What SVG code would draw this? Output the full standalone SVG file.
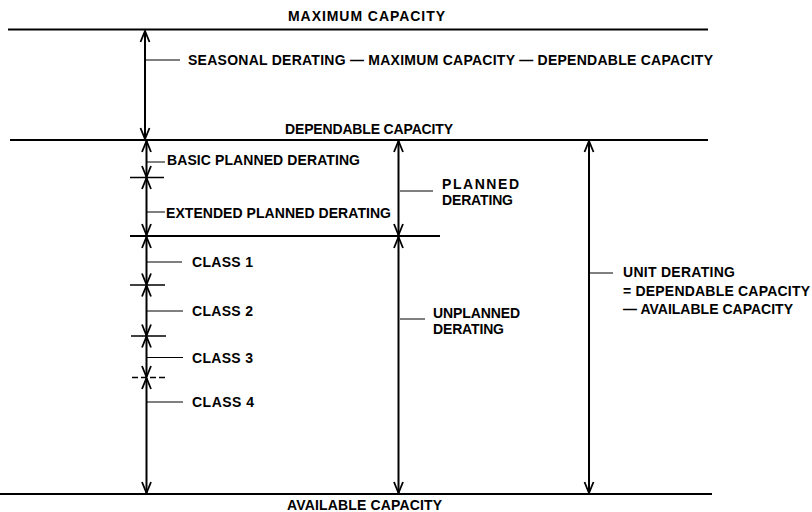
<svg xmlns="http://www.w3.org/2000/svg" width="812" height="512" viewBox="0 0 812 512">
<defs>
<marker id="ah" markerUnits="userSpaceOnUse" markerWidth="14" markerHeight="12" viewBox="-12 -6 14 12" refX="0" refY="0" orient="auto-start-reverse">
<path d="M-11,-4.5 L0,0 L-11,4.5" fill="none" stroke="#000" stroke-width="1.8" stroke-linejoin="miter"/>
</marker>
<style>
text{font-family:"Liberation Sans",Arial,sans-serif;font-weight:bold;font-size:14px;fill:#000}
.lvl{stroke:#000;stroke-width:1.8;fill:none}
.arr{stroke:#000;stroke-width:2;fill:none;marker-start:url(#ah);marker-end:url(#ah)}
.tick{stroke:#000;stroke-width:1;fill:none}
.cross{stroke:#000;stroke-width:1.6;fill:none}
</style>
</defs>
<rect width="812" height="512" fill="#fff"/>

<g id="max-capacity">
<line class="lvl" x1="8" y1="29.5" x2="708" y2="29.5"/>
<text x="288" y="20.5" textLength="157">MAXIMUM CAPACITY</text>
</g>
<g id="dependable-capacity">
<line class="lvl" x1="10" y1="140" x2="708" y2="140"/>
<text x="285" y="134" textLength="168">DEPENDABLE CAPACITY</text>
</g>
<g id="planned-boundary">
<line class="lvl" x1="130" y1="236" x2="440" y2="236"/>
</g>
<g id="available-capacity">
<line class="lvl" x1="0" y1="494" x2="712" y2="494"/>
<text x="287" y="510" textLength="155">AVAILABLE CAPACITY</text>
</g>

<g id="seasonal-derating">
<line class="tick" x1="146" y1="60" x2="180" y2="60"/>
<text x="188" y="65" textLength="525">SEASONAL DERATING — MAXIMUM CAPACITY — DEPENDABLE CAPACITY</text>
</g>
<g id="basic-planned">
<line class="tick" x1="147" y1="162" x2="165" y2="162"/>
<text x="167" y="165" textLength="193">BASIC PLANNED DERATING</text>
</g>
<g id="extended-planned">
<line class="tick" x1="147" y1="212" x2="165" y2="212"/>
<text x="166" y="218" textLength="225">EXTENDED PLANNED DERATING</text>
</g>
<g id="class-1">
<line class="tick" x1="147" y1="262" x2="182" y2="262"/>
<text x="192" y="267" textLength="61">CLASS 1</text>
</g>
<g id="class-2">
<line class="tick" x1="147" y1="311" x2="183" y2="311"/>
<text x="192" y="316" textLength="61">CLASS 2</text>
</g>
<g id="class-3">
<line class="tick" x1="147" y1="357.5" x2="183" y2="357.5" stroke-width="1.6"/>
<text x="192" y="363" textLength="61">CLASS 3</text>
</g>
<g id="class-4">
<line class="tick" x1="147" y1="402" x2="183" y2="402"/>
<text x="192" y="407" textLength="62">CLASS 4</text>
</g>
<g id="planned-derating">
<line class="tick" x1="400" y1="191" x2="433" y2="191"/>
<text x="442" y="189" textLength="77">PLANNED</text>
<text x="442" y="205" textLength="71">DERATING</text>
</g>
<g id="unplanned-derating">
<line class="tick" x1="400" y1="319" x2="425" y2="319"/>
<text x="433" y="318" textLength="87">UNPLANNED</text>
<text x="433" y="334" textLength="71">DERATING</text>
</g>
<g id="unit-derating">
<line class="tick" x1="590" y1="273" x2="613" y2="273"/>
<text x="623" y="277" textLength="112">UNIT DERATING</text>
<text x="623" y="296" textLength="187">= DEPENDABLE CAPACITY</text>
<text x="623" y="314" textLength="170">— AVAILABLE CAPACITY</text>
</g>

<g id="connectors">
<line class="arr" x1="145" y1="31" x2="145" y2="139"/>
<line class="arr" x1="146.5" y1="141" x2="146.5" y2="177"/>
<line class="arr" x1="146.5" y1="178" x2="146.5" y2="235"/>
<line class="arr" x1="146.5" y1="237" x2="146.5" y2="284.5"/>
<line class="arr" x1="146.5" y1="285.5" x2="146.5" y2="335.5"/>
<line class="arr" x1="146.5" y1="336.5" x2="146.5" y2="377"/>
<line class="arr" x1="146.5" y1="378" x2="146.5" y2="493"/>
<line class="arr" x1="398.5" y1="141" x2="398.5" y2="235"/>
<line class="arr" x1="398.5" y1="237" x2="398.5" y2="493"/>
<line class="arr" x1="589" y1="141" x2="589" y2="493"/>
<line class="cross" x1="130" y1="177.5" x2="164" y2="177.5"/>
<line class="cross" x1="130" y1="285" x2="165" y2="285"/>
<line class="cross" x1="131" y1="336" x2="166" y2="336"/>
<line class="cross" x1="132" y1="377.5" x2="165" y2="377.5" stroke-dasharray="6 3"/>
</g>
</svg>
